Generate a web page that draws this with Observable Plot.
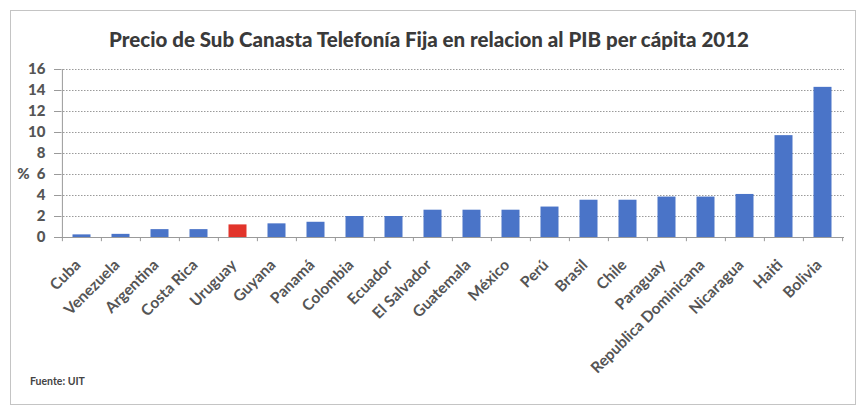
<!DOCTYPE html>
<html>
<head>
<meta charset="utf-8">
<script src="https://cdn.jsdelivr.net/npm/d3@7"></script>
<script src="https://cdn.jsdelivr.net/npm/@observablehq/plot@0.6"></script>
<style>
  html, body { margin: 0; padding: 0; background: #fff; }
  #wrap { position: relative; width: 858px; height: 407px; overflow: hidden; font-family: Lato, "Open Sans", sans-serif; }
  #border { position: absolute; left: 10px; top: 10px; width: 846px; height: 395px; border: 1px solid #c4c4c4; box-sizing: border-box; }
  #title { position: absolute; left: 0; top: 28px; width: 858px; text-align: center; font-size: 20.5px; font-weight: 900; color: #3a3a3a; line-height: 22px; }
  #chart { position: absolute; left: 0; top: 0; }
  #source { position: absolute; left: 30px; top: 375px; font-size: 10.5px; font-weight: bold; color: #444; }
</style>
</head>
<body>
<div id="wrap">
  <div id="border"></div>
  <div id="chart"></div>
  <div id="title">Precio de Sub Canasta Telefonía Fija en relacion al PIB per cápita 2012</div>
  <div id="source">Fuente: UIT</div>
</div>
<script>
const countries = ["Cuba","Venezuela","Argentina","Costa Rica","Uruguay","Guyana","Panamá","Colombia","Ecuador","El Salvador","Guatemala","México","Perú","Brasil","Chile","Paraguay","Republica Dominicana","Nicaragua","Haiti","Bolivia"];
const values = [0.25,0.3,0.75,0.75,1.2,1.3,1.45,2.0,2.0,2.6,2.6,2.6,2.9,3.55,3.55,3.85,3.85,4.1,9.7,14.3];
const highlight = "Uruguay";
const yTicks = [0,2,4,6,8,10,12,14,16];
const yLabel = "%";
const source = "Fuente: UIT";

const data = countries.map((c, i) => ({country: c, value: values[i]}));
const W = 858, H = 407, mL = 60, mR = 14, mT = 69, mB = 170;
const bw = (W - mL - mR) / countries.length;

const plot = Plot.plot({
  width: W, height: H,
  marginLeft: mL, marginRight: mR, marginTop: mT, marginBottom: mB,
  style: {fontFamily: "Lato, 'Open Sans', sans-serif", background: "transparent"},
  x: {domain: countries, padding: 0, axis: null},
  y: {domain: [0, 16], axis: null},
  marks: [
    Plot.gridY(yTicks, {stroke: "#9a9a9a", strokeOpacity: 1, strokeDasharray: "1.5,1.5", strokeWidth: 1}),
    Plot.ruleX([countries[0]], {dx: -bw / 2, stroke: "#9a9a9a"}),
    Plot.ruleY([0], {stroke: "#9a9a9a"}),
    Plot.ruleX(countries, {y1: 0, y2: -0.4, dx: -bw / 2, stroke: "#9a9a9a"}),
    Plot.ruleX([countries[countries.length - 1]], {y1: 0, y2: -0.4, dx: bw / 2, stroke: "#9a9a9a"}),
    Plot.barY(data, {x: "country", y: "value", fill: d => d.country === highlight ? "#e2342b" : "#4a74c8", insetLeft: 10.5, insetRight: 10.5}),
    Plot.axisY(yTicks, {tickSize: 6, tickPadding: 9, fontSize: 15, fontWeight: 900, fill: "#555", stroke: "#9a9a9a", label: null, tickFormat: d => d}),
    Plot.text([6], {y: d => d, text: [yLabel], frameAnchor: "left", dx: -37, fontSize: 15, fontWeight: 900, fill: "#555", textAnchor: "middle"}),
    Plot.text(countries, {x: d => d, text: d => d, frameAnchor: "bottom", dy: 25, dx: -4, rotate: -45, textAnchor: "end", lineAnchor: "middle", fontSize: 15.5, fontWeight: "bold", fill: "#555"})
  ]
});
document.getElementById("chart").appendChild(plot);
document.getElementById("source").textContent = source;
</script>
</body>
</html>
